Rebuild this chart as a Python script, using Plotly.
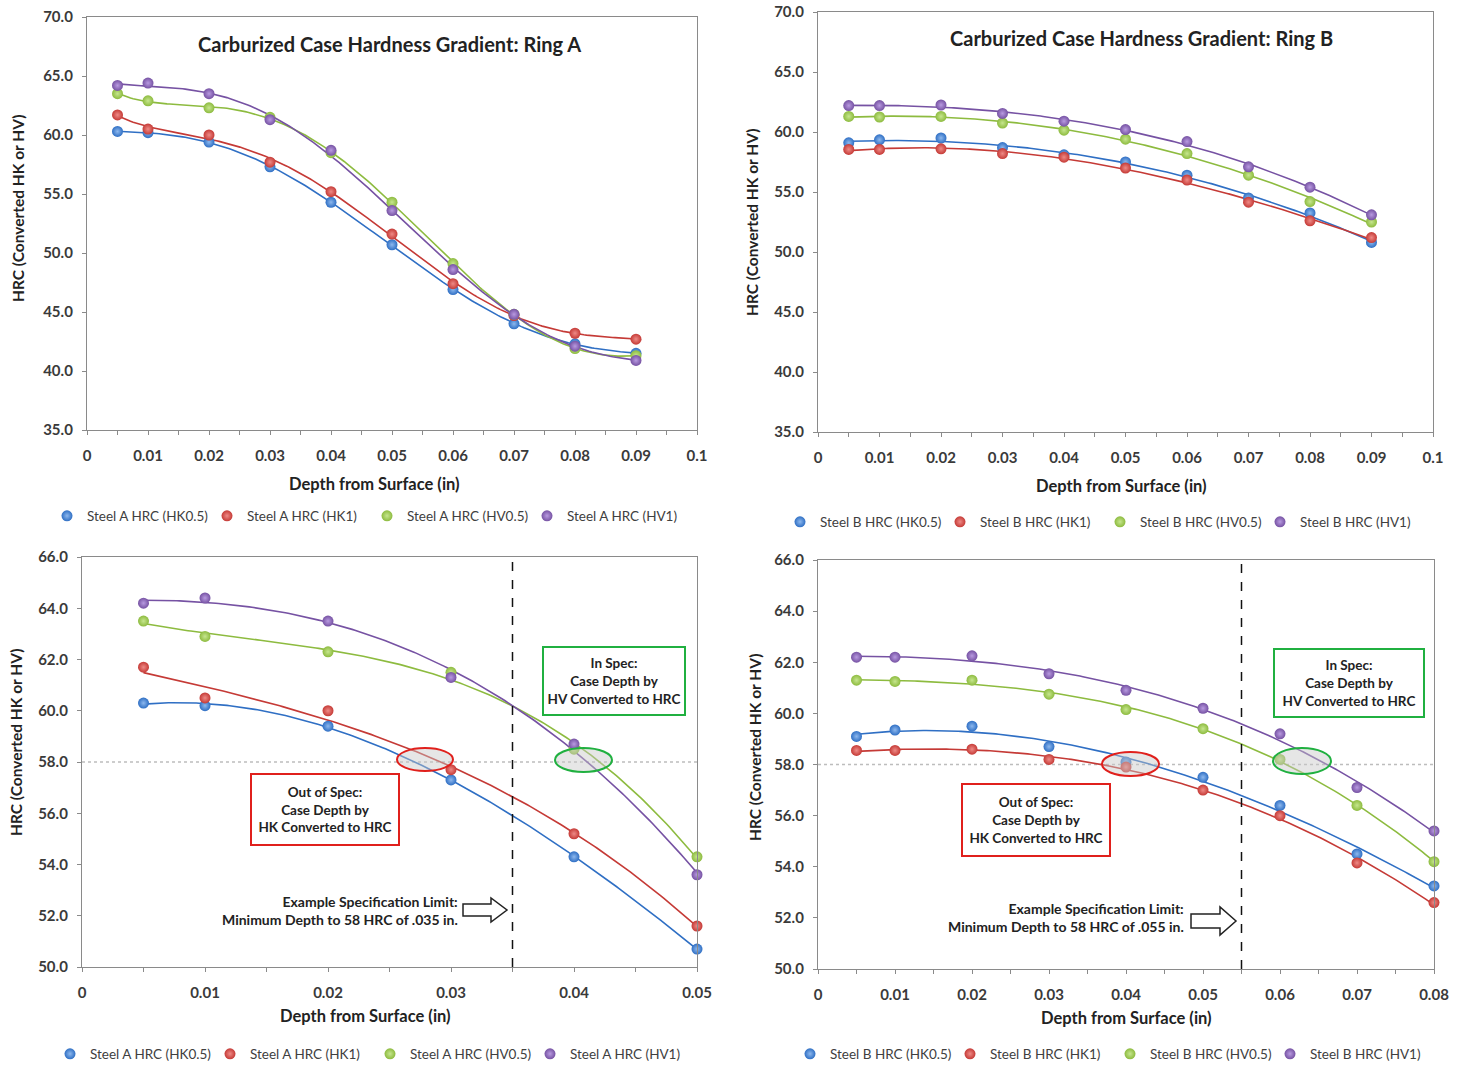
import numpy as np
import plotly.graph_objects as go

W, H = 1461, 1066

# ---------------- data ----------------
depth = [0.005, 0.01, 0.02, 0.03, 0.04, 0.05, 0.06, 0.07, 0.08, 0.09]

a_hk05 = [60.3, 60.2, 59.4, 57.3, 54.3, 50.7, 46.9, 44.0, 42.3, 41.5]
a_hk1 = [61.7, 60.5, 60.0, 57.7, 55.2, 51.6, 47.4, 44.7, 43.2, 42.7]
a_hv05 = [63.5, 62.9, 62.3, 61.5, 58.5, 54.3, 49.1, 44.8, 41.9, 41.3]
a_hv1 = [64.2, 64.4, 63.5, 61.3, 58.7, 53.6, 48.6, 44.8, 42.1, 40.9]

b_hk05 = [59.1, 59.35, 59.5, 58.7, 58.1, 57.5, 56.4, 54.5, 53.25, 50.8]
b_hk1 = [58.55, 58.55, 58.6, 58.2, 57.9, 57.0, 56.0, 54.15, 52.6, 51.2]
b_hv05 = [61.3, 61.25, 61.3, 60.75, 60.15, 59.4, 58.2, 56.4, 54.2, 52.5]
b_hv1 = [62.2, 62.2, 62.25, 61.55, 60.9, 60.2, 59.2, 57.1, 55.4, 53.1]

names_a = ["Steel A HRC (HK0.5)", "Steel A HRC (HK1)", "Steel A HRC (HV0.5)", "Steel A HRC (HV1)"]
names_b = ["Steel B HRC (HK0.5)", "Steel B HRC (HK1)", "Steel B HRC (HV0.5)", "Steel B HRC (HV1)"]
series_a = [a_hk05, a_hk1, a_hv05, a_hv1]
series_b = [b_hk05, b_hk1, b_hv05, b_hv1]

spec_limit_a = 0.035
spec_limit_b = 0.055
target_hrc = 58.0

# ---------------- styling ----------------
colors = ["#2F6FC4", "#C53A36", "#8DBB3F", "#7652A3"]
centers = ["#8DB8EE", "#EE8A86", "#C6E68E", "#B89AE0"]
FONT = "Lato"
TXT = "#3a3a3a"


def px(x):
    return x / W


def py(y):
    return 1 - y / H


fig = go.Figure()

panels = [
    ("x", "y", series_a, names_a, 10, 5, "legend"),
    ("x2", "y2", series_b, names_b, 10, 3, "legend2"),
    ("x3", "y3", series_a, names_a, 6, 3, "legend3"),
    ("x4", "y4", series_b, names_b, 9, 3, "legend4"),
]

for xa, ya, ser, nms, n, deg, lg in panels:
    xs = np.array(depth[:n])
    for i, vals in enumerate(ser):
        ys = np.array(vals[:n])
        coef = np.polyfit(xs, ys, deg)
        xf = np.linspace(xs[0], xs[-1], 200)
        yf = np.polyval(coef, xf)
        fig.add_trace(go.Scatter(
            x=xf, y=yf, mode="lines", xaxis=xa, yaxis=ya,
            line=dict(color=colors[i], width=1.6), showlegend=False,
            hoverinfo="skip"))
    for i, vals in enumerate(ser):
        fig.add_trace(go.Scatter(
            x=depth[:n], y=vals[:n], mode="markers", xaxis=xa, yaxis=ya,
            name=nms[i], legend=lg, cliponaxis=False,
            marker=dict(size=11, color=colors[i], line=dict(width=0),
                        gradient=dict(type="radial", color=centers[i]))))

# ---------------- axes ----------------
domains = {
    "1": dict(x=[px(87), px(697)], y=[py(430), py(17)], xr=[0, 0.1], yr=[35, 70], ydt=5),
    "2": dict(x=[px(818), px(1433)], y=[py(432), py(12)], xr=[0, 0.1], yr=[35, 70], ydt=5),
    "3": dict(x=[px(82), px(697)], y=[py(967), py(557)], xr=[0, 0.05], yr=[50, 66], ydt=2),
    "4": dict(x=[px(818), px(1434)], y=[py(969), py(560)], xr=[0, 0.08], yr=[50, 66], ydt=2),
}

axis_common = dict(
    showgrid=False, zeroline=False, showline=True, mirror=True, automargin=False,
    linecolor="#8a8a8a", linewidth=1.3, ticks="outside", ticklen=4,
    tickcolor="#8a8a8a", tickfont=dict(family=FONT, size=15, color=TXT, weight="bold"),
)

for k, d in domains.items():
    sx = "xaxis" if k == "1" else f"xaxis{k}"
    sy = "yaxis" if k == "1" else f"yaxis{k}"
    yname = "y" if k == "1" else f"y{k}"
    xname = "x" if k == "1" else f"x{k}"
    fig.layout[sx] = dict(
        axis_common, domain=d["x"], range=d["xr"], anchor=yname,
        tick0=0, dtick=0.01, ticklabelstandoff=8,
        minor=dict(dtick=0.005, tick0=0, ticks="outside", ticklen=4, tickcolor="#8a8a8a"),
    )
    fig.layout[sy] = dict(
        axis_common, domain=d["y"], range=d["yr"], anchor=xname,
        tick0=d["yr"][0], dtick=d["ydt"], tickformat=".1f", ticklabelstandoff=6,
    )

# ---------------- text annotations ----------------
annotations = []


def text(x, y, s, size=13, rot=0, xanchor="center", align="center"):
    annotations.append(dict(
        x=px(x), y=py(y), xref="paper", yref="paper", text=s, showarrow=False,
        xanchor=xanchor, yanchor="middle", textangle=rot, align=align,
        font=dict(family=FONT, size=size, color="#222222", weight="bold")))


text(389, 44, "Carburized Case Hardness Gradient: Ring A", size=20)
text(1141, 38, "Carburized Case Hardness Gradient: Ring B", size=20)
for xc, yc in [(374, 484), (1121, 486), (365, 1016), (1126, 1018)]:
    text(xc, yc, "Depth from Surface (in)", size=16.5)
for xc, yc in [(18, 209), (752, 223), (16, 743), (755, 748)]:
    text(xc, yc, "HRC (Converted HK or HV)", size=15.5, rot=-90)

text(460, 910, "Example Specification Limit:<br>Minimum Depth to 58 HRC of .035 in.",
     size=14, xanchor="right", align="right")
text(1186, 917, "Example Specification Limit:<br>Minimum Depth to 58 HRC of .055 in.",
     size=14, xanchor="right", align="right")


def box(x0, y0, x1, y1, s, col):
    annotations.append(dict(
        x=px((x0 + x1) / 2), y=py((y0 + y1) / 2), xref="paper", yref="paper",
        text=s, showarrow=False, xanchor="center", yanchor="middle", align="center",
        width=x1 - x0 - 6, height=y1 - y0 - 6, bordercolor=col, borderwidth=2,
        bgcolor="white", borderpad=1,
        font=dict(family=FONT, size=13.5, color="#222222", weight="bold")))


box(250, 773, 400, 846, "Out of Spec:<br>Case Depth by<br>HK Converted to HRC", "#E0201C")
box(542, 646, 686, 716, "In Spec:<br>Case Depth by<br>HV Converted to HRC", "#20B040")
box(961, 783, 1111, 857, "Out of Spec:<br>Case Depth by<br>HK Converted to HRC", "#E0201C")
box(1273, 648, 1425, 718, "In Spec:<br>Case Depth by<br>HV Converted to HRC", "#20B040")

# ---------------- shapes ----------------
shapes = []
for xr_, yr_, xl, xmax in [("x3", "y3", spec_limit_a, 0.05), ("x4", "y4", spec_limit_b, 0.08)]:
    shapes.append(dict(type="line", xref=xr_, yref=yr_, x0=0, x1=xmax, y0=target_hrc, y1=target_hrc,
                       line=dict(color="#bdbdbd", width=1.5, dash="dot"), layer="below"))
    shapes.append(dict(type="line", xref=xr_, yref=f"{yr_} domain", x0=xl, x1=xl, y0=0, y1=1,
                       line=dict(color="#111111", width=1.5, dash="dash")))


def ellipse(xc, yc, w, h, col):
    shapes.append(dict(type="circle", xref="paper", yref="paper",
                       x0=px(xc - w / 2), x1=px(xc + w / 2), y0=py(yc + h / 2), y1=py(yc - h / 2),
                       fillcolor="rgba(200,200,200,0.45)", line=dict(color=col, width=2)))


ellipse(425, 759.5, 56, 23, "#E0201C")
ellipse(583.5, 760, 57, 24, "#20B040")
ellipse(1130.5, 764, 57, 24, "#E0201C")
ellipse(1302, 761, 58, 26, "#20B040")


def block_arrow(x0, x1, yc, hh, sh, hx):
    pts = [(x0, yc - sh), (x1 - hx, yc - sh), (x1 - hx, yc - hh), (x1, yc),
           (x1 - hx, yc + hh), (x1 - hx, yc + sh), (x0, yc + sh)]
    path = "M " + " L ".join(f"{px(a):.5f},{py(b):.5f}" for a, b in pts) + " Z"
    shapes.append(dict(type="path", xref="paper", yref="paper", path=path,
                       fillcolor="white", line=dict(color="#222222", width=1.5)))


block_arrow(463, 507, 910, 12, 6, 16)
block_arrow(1191, 1236, 921, 14, 7, 16)

# ---------------- legends ----------------
leg_common = dict(orientation="h", xanchor="left", yanchor="middle", bgcolor="rgba(0,0,0,0)",
                  font=dict(family=FONT, size=13.5, color="#404040"), itemwidth=30,
                  entrywidth=115, entrywidthmode="pixels", itemclick=False)

fig.update_layout(
    width=W, height=H, margin=dict(l=0, r=0, t=0, b=0, pad=0, autoexpand=False), autosize=False,
    paper_bgcolor="white", plot_bgcolor="white",
    annotations=annotations, shapes=shapes,
    legend=dict(leg_common, x=px(47), y=py(516)),
    legend2=dict(leg_common, x=px(780), y=py(522)),
    legend3=dict(leg_common, x=px(50), y=py(1054)),
    legend4=dict(leg_common, x=px(790), y=py(1054)),
)

fig.write_html(
    "out.html",
    config={"responsive": False, "displayModeBar": False},
    post_script="document.documentElement.style.margin='0';document.body.style.margin='0';"
                "document.body.style.overflow='hidden';",
)
